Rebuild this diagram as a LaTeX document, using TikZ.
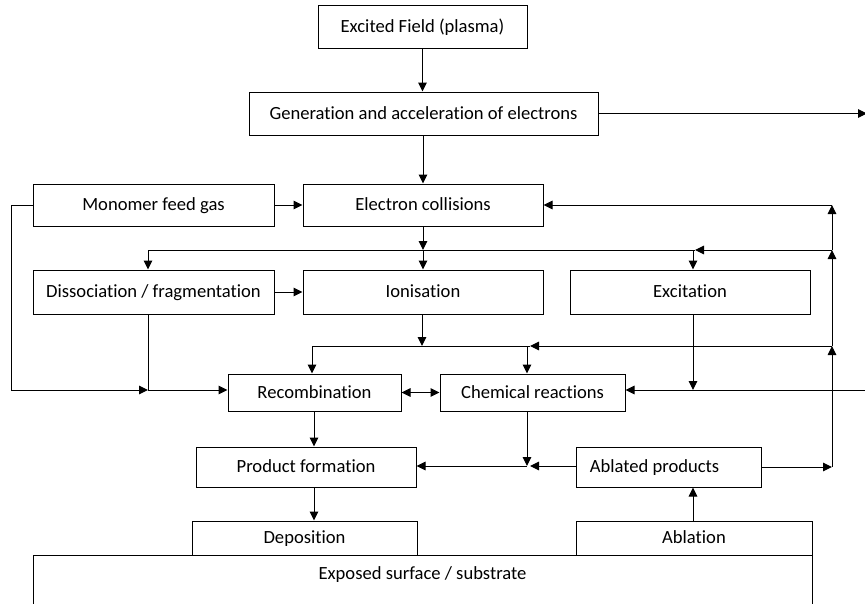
\documentclass[tikz,border=0pt]{standalone}
\usepackage{fontspec}
\setmainfont{Carlito}[Ligatures={NoCommon}]
\usetikzlibrary{arrows.meta}
\begin{document}
\begin{tikzpicture}[x=1pt,y=-1pt,
  lbl/.style={inner sep=0pt, text height=15pt, text depth=4pt, font=\fontsize{18.6}{21}\selectfont},
  box/.style={draw, line width=1pt, lbl},
  link/.style={line width=1pt},
  arr/.style={line width=1pt, -{Triangle[length=9pt,width=8.5pt]}},
  darr/.style={line width=1pt, {Triangle[length=9pt,width=8.5pt]}-{Triangle[length=9pt,width=8.5pt]}}]
\useasboundingbox (0,0) rectangle (865,603);
% boxes
\node[box, minimum width=209, minimum height=43] (exc) at (422.5,26.5) {Excited Field (plasma)};
\node[box, minimum width=349, minimum height=43] (gen) at (423.5,113.5) {Generation and acceleration of electrons};
\node[box, minimum width=241, minimum height=42] (mono) at (153.5,205) {Monomer feed gas};
\node[box, minimum width=240, minimum height=42] (coll) at (423,205) {Electron collisions};
\node[box, minimum width=241, minimum height=44] (diss) at (153.5,292) {Dissociation / fragmentation};
\node[box, minimum width=240, minimum height=44] (ion) at (423,292) {Ionisation};
\node[box, minimum width=240, minimum height=44] (excit) at (690,292) {Excitation};
\node[box, minimum width=173, minimum height=37] (recomb) at (314.5,392.5) {Recombination};
\node[box, minimum width=185, minimum height=37] (chem) at (532.5,392.5) {Chemical reactions};
\node[box, minimum width=220, minimum height=40] (prod) at (306,467) {Product formation};
\node[box, minimum width=185, minimum height=40] (abl) at (668.5,467) {\hspace*{-28pt}Ablated products};
\node[box, minimum width=225, minimum height=34] (dep) at (304.5,538) {Deposition};
\node[box, minimum width=236, minimum height=34] (ablation) at (694,538) {Ablation};
\node[box, minimum width=779, minimum height=90, anchor=north] (surf) at (422.5,555) {};
\node[lbl] (surflabel) at (422.5,574) {Exposed surface / substrate};
% junction coordinates
\coordinate (genR) at (867,113.5);
\coordinate (mL) at (11,205);
\coordinate (j1) at (148,390);
\coordinate (j2) at (423,250);
\coordinate (dL) at (148,250);
\coordinate (eA) at (693,250);
\coordinate (eB) at (695,250);
\coordinate (i1) at (422,346);
\coordinate (rL) at (312,346);
\coordinate (cA) at (527,346);
\coordinate (cB) at (530,346);
\coordinate (R0) at (832,467);
\coordinate (R1) at (832,346);
\coordinate (R2) at (832,250);
\coordinate (R3) at (832,205);
\coordinate (x1) at (693,390);
\coordinate (xR) at (867,390);
\coordinate (p1) at (527,466);
\coordinate (p2) at (530,466);
% connectors
\draw[arr] (exc.south) -- (exc.south |- gen.north);
\draw[arr] (gen.east) -- (genR);
\draw[arr] (gen.south -| coll.north) -- (coll.north);
\draw[arr] (mono.east) -- (coll.west);
\draw[link] (mono.west) -- (mL) -- (mL |- j1);
\draw[arr] (mL |- j1) -- (j1);
\draw[link] (j1 |- diss.south) -- (j1);
\draw[arr] (j1) -- (j1 -| recomb.west);
\draw[arr] (coll.south) -- (j2);
\draw[arr] (j2) -- (j2 |- ion.north);
\draw[link] (dL) -- (eB);
\draw[arr] (dL) -- (dL |- diss.north);
\draw[arr] (eA) -- (eA |- excit.north);
\draw[arr] (diss.east) -- (ion.west);
\draw[arr] (ion.south -| i1) -- (i1);
\draw[link] (rL) -- (cB);
\draw[arr] (rL) -- (rL |- recomb.north);
\draw[arr] (cA) -- (cA |- chem.north);
\draw[arr] (abl.east |- R0) -- (R0);
\draw[arr] (R0) -- (R1);
\draw[arr] (R1) -- (R2);
\draw[arr] (R2) -- (R3);
\draw[arr] (R3) -- (coll.east |- R3);
\draw[arr] (R2) -- (eB);
\draw[arr] (R1) -- (cB);
\draw[arr] (x1 |- excit.south) -- (x1);
\draw[arr] (xR) -- (xR -| chem.east);
\draw[darr] (recomb.east) -- (chem.west);
\draw[arr] (recomb.south -| 314,0) -- (314,0 |- prod.north);
\draw[arr] (p1 |- chem.south) -- (p1);
\draw[arr] (abl.west |- p2) -- (p2);
\draw[arr] (p1) -- (p1 -| prod.east);
\draw[arr] (314,0 |- prod.south) -- (314,0 |- dep.north);
\draw[arr] (693,0 |- ablation.north) -- (693,0 |- abl.south);
\end{tikzpicture}
\end{document}
